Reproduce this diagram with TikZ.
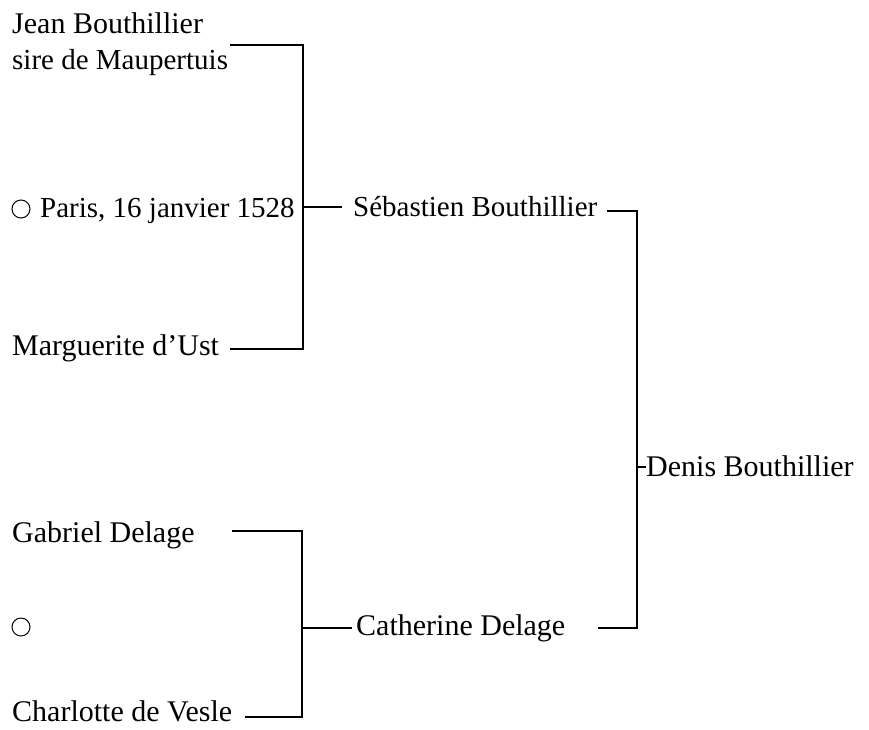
\documentclass[tikz,border=0pt]{standalone}
\usepackage{fontspec}
\setmainfont{Liberation Serif}
\begin{document}
\begin{tikzpicture}[x=1pt,y=-1pt,
  lbl/.style={anchor=base west,inner sep=0pt,font=\fontsize{30}{35}\selectfont},
  lblsmall/.style={lbl,font=\fontsize{29}{34}\selectfont},
  ring/.style={circle,draw,line width=1pt,minimum size=18pt,inner sep=0pt},
  link/.style={line width=1.4pt}]
\useasboundingbox (0,0) rectangle (869,729);
% ancestors
\node[lbl] (jean) at (12,33) {Jean Bouthillier};
\node[lblsmall] (sire) at (12,69) {sire de Maupertuis};
\node[ring] (c1) at (21,209) {};
\node[lblsmall] (paris) at (40,217) {Paris, 16 janvier 1528};
\node[lbl] (marg) at (12,355) {Marguerite d’Ust};
\node[lblsmall] (seb) at (353,216) {Sébastien Bouthillier};
\node[lbl] (gab) at (12,542) {Gabriel Delage};
\node[ring] (c2) at (21,627) {};
\node[lbl] (char) at (12,721) {Charlotte de Vesle};
\node[lbl] (cath) at (356,635) {Catherine Delage};
\node[lbl] (denis) at (646,476) {Denis Bouthillier};
% bracket corners
\coordinate (a1) at (230,45);
\coordinate (a2) at (303,45);
\coordinate (a3) at (303,349);
\coordinate (a4) at (230,349);
\coordinate (am) at (303,207);
\coordinate (as) at (342,207);
\coordinate (b1) at (232,531);
\coordinate (b2) at (302,531);
\coordinate (b3) at (302,717);
\coordinate (b4) at (245,717);
\coordinate (bm) at (302,628);
\coordinate (bs) at (352,628);
\coordinate (d1) at (607,211);
\coordinate (d2) at (637,211);
\coordinate (d3) at (637,628);
\coordinate (d4) at (598,628);
\coordinate (dm) at (637,467);
\coordinate (ds) at (646,467);
% connectors
\draw[link] (a1) -- (a2) -- (a3) -- (a4);
\draw[link] (am) -- (as);
\draw[link] (b1) -- (b2) -- (b3) -- (b4);
\draw[link] (bm) -- (bs);
\draw[link] (d1) -- (d2) -- (d3) -- (d4);
\draw[link] (dm) -- (ds);
\end{tikzpicture}
\end{document}
